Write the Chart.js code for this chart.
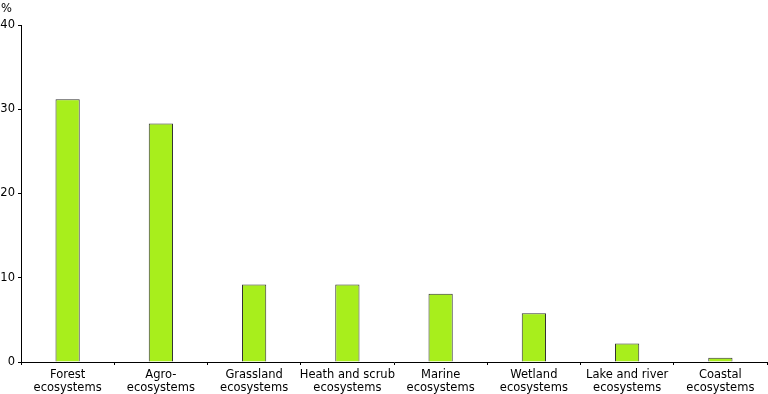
<!DOCTYPE html>
<html>
<head>
<meta charset="utf-8">
<script src="https://cdn.jsdelivr.net/npm/chart.js@4/dist/chart.umd.min.js"></script>
<style>
  html, body { margin: 0; padding: 0; background: #fff; }
  #wrap { position: relative; width: 768px; height: 394px; }
</style>
</head>
<body>
<div id="wrap"><canvas id="chart" width="768" height="394"></canvas></div>
<script>
var categories = [
    ['Forest', 'ecosystems'],
    ['Agro-', 'ecosystems'],
    ['Grassland', 'ecosystems'],
    ['Heath and scrub', 'ecosystems'],
    ['Marine', 'ecosystems'],
    ['Wetland', 'ecosystems'],
    ['Lake and river', 'ecosystems'],
    ['Coastal', 'ecosystems']
];
var values = [31.2, 28.3, 9.2, 9.2, 8.1, 5.8, 2.2, 0.5];
var yTicks = [0, 10, 20, 30, 40];
var unitLabel = '%';

var fontFamily = 'Verdana, "DejaVu Sans", sans-serif';

// draws the unit label above the y axis
var unitPlugin = {
    id: 'unitLabel',
    afterDraw: function(chart) {
        var ctx = chart.ctx;
        ctx.save();
        ctx.font = '11.5px ' + fontFamily;
        ctx.fillStyle = '#000';
        ctx.textAlign = 'left';
        ctx.textBaseline = 'top';
        ctx.fillText(unitLabel, 1, 3);
        ctx.restore();
    }
};

var ctx = document.getElementById('chart').getContext('2d');
var chart = new Chart(ctx, {
    type: 'bar',
    data: {
        labels: categories,
        datasets: [{
            data: values,
            backgroundColor: '#a8ee1c',
            borderColor: '#333333',
            borderWidth: 1,
            borderSkipped: 'bottom',
            barPercentage: 0.26,
            categoryPercentage: 1
        }]
    },
    options: {
        responsive: false,
        animation: false,
        layout: { padding: { top: 25, right: 1, left: 0, bottom: 0 } },
        plugins: {
            legend: { display: false },
            tooltip: { enabled: false }
        },
        scales: {
            x: {
                grid: {
                    offset: true,
                    drawOnChartArea: false,
                    drawTicks: true,
                    tickLength: 3,
                    color: '#000'
                },
                border: { color: '#000', width: 1 },
                ticks: {
                    color: '#000',
                    font: { family: fontFamily, size: 11.5, lineHeight: 1.18 },
                    maxRotation: 0,
                    autoSkip: false,
                    padding: 3
                },
                afterFit: function(scale) { scale.height = 32; }
            },
            y: {
                min: 0,
                max: 40,
                afterBuildTicks: function(scale) {
                    scale.ticks = yTicks.map(function(v) { return { value: v }; });
                },
                grid: {
                    drawOnChartArea: false,
                    drawTicks: true,
                    tickLength: 3,
                    color: '#000'
                },
                border: { color: '#000', width: 1 },
                ticks: {
                    color: '#000',
                    font: { family: fontFamily, size: 11.5 },
                    padding: 3
                },
                afterFit: function(scale) { scale.width = 21; }
            }
        }
    },
    plugins: [unitPlugin]
});
</script>
</body>
</html>
